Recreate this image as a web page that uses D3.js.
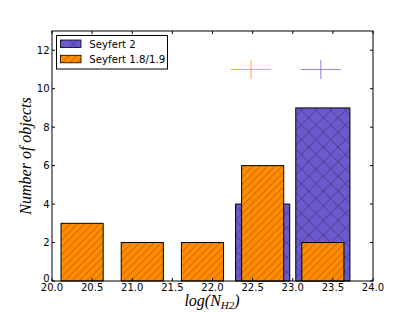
<!DOCTYPE html>
<html><head><meta charset="utf-8">
<script src="https://cdn.jsdelivr.net/npm/d3@7"></script>
<style>body{margin:0;background:#fff}svg{display:block}</style>
</head><body>
<script>
// ---- data ----
const binStarts = [20.0, 20.75, 21.5, 22.25, 23.0];
const binWidth = 0.75;
const sy2Counts = [0, 0, 0, 4, 9];
const sy18Counts = [3, 2, 2, 6, 2];
const seriesNames = ["Seyfert 2", "Seyfert 1.8/1.9"];
const xTicks = [20.0, 20.5, 21.0, 21.5, 22.0, 22.5, 23.0, 23.5, 24.0];
const yTicks = [0, 2, 4, 6, 8, 10, 12];
const crossX = [22.48, 23.35];
const crossY = [11, 11];
const crossXErr = [0.25, 0.25];
const crossYErr = [0.5, 0.5];

const W = 415, H = 312;
const L = 52, R = 373, T = 31, B = 281;
const svg = d3.select("body").append("svg").attr("width", W).attr("height", H);
const x = d3.scaleLinear().domain([20, 24]).range([L, R]);
const y = d3.scaleLinear().domain([0, 13]).range([B, T]);

const defs = svg.append("defs");
// crosshatch 'x'
const p1 = defs.append("pattern").attr("id", "hx").attr("patternUnits", "userSpaceOnUse")
  .attr("width", 14.7).attr("height", 14.7);
p1.append("rect").attr("width", 14.7).attr("height", 14.7).attr("fill", "#6a5acd");
p1.append("path").attr("d", "M0,0L14.7,14.7M0,14.7L14.7,0M-1,1L1,-1M13.7,15.7L15.7,13.7M-1,13.7L1,15.7M13.7,-1L15.7,1")
  .attr("stroke", "#2a2450").attr("stroke-width", 0.6).attr("stroke-opacity", 0.85).attr("fill", "none");
// '//' hatch
const p2 = defs.append("pattern").attr("id", "hs").attr("patternUnits", "userSpaceOnUse")
  .attr("width", 7.35).attr("height", 7.35);
p2.append("rect").attr("width", 7.35).attr("height", 7.35).attr("fill", "#ff8c00");
p2.append("path").attr("d", "M0,7.35L7.35,0M-1,1L1,-1M6.35,8.35L8.35,6.35")
  .attr("stroke", "#5a3000").attr("stroke-width", 0.55).attr("stroke-opacity", 0.8).attr("fill", "none");

const g = svg.append("g");
function bars(counts, frac, fill) {
  const d = binStarts.map((s, i) => ({s, c: counts[i]})).filter(e => e.c > 0);
  g.selectAll(null).data(d).enter().append("rect")
    .attr("x", e => x(e.s + binWidth * (1 - frac) / 2))
    .attr("width", e => x(e.s + binWidth * (1 + frac) / 2) - x(e.s + binWidth * (1 - frac) / 2))
    .attr("y", e => y(e.c)).attr("height", e => y(0) - y(e.c))
    .attr("fill", fill).attr("stroke", "#000").attr("stroke-width", 1);
}
bars(sy2Counts, 0.9, "url(#hx)");
bars(sy18Counts, 0.7, "url(#hs)");

// crosses
const crossColors = ["#ff8c00", "#6a5acd"];
crossX.forEach((cx, i) => {
  const cg = svg.append("g").attr("stroke", crossColors[i]).attr("stroke-opacity", 0.75).attr("stroke-width", 1);
  cg.append("line").attr("x1", x(cx - crossXErr[i])).attr("x2", x(cx + crossXErr[i])).attr("y1", y(crossY[i])).attr("y2", y(crossY[i]));
  cg.append("line").attr("x1", x(cx)).attr("x2", x(cx)).attr("y1", y(crossY[i] - crossYErr[i])).attr("y2", y(crossY[i] + crossYErr[i]));
});

// axes
const font = "DejaVu Sans, sans-serif";
const tl = 3;
const ax = svg.append("g").attr("stroke", "#000").attr("stroke-width", 1);
xTicks.forEach(t => {
  ax.append("line").attr("x1", x(t)).attr("x2", x(t)).attr("y1", B).attr("y2", B - tl);
  ax.append("line").attr("x1", x(t)).attr("x2", x(t)).attr("y1", T).attr("y2", T + tl);
});
yTicks.forEach(t => {
  ax.append("line").attr("x1", L).attr("x2", L + tl).attr("y1", y(t)).attr("y2", y(t));
  ax.append("line").attr("x1", R).attr("x2", R - tl).attr("y1", y(t)).attr("y2", y(t));
});
svg.append("rect").attr("x", L).attr("y", T).attr("width", R - L).attr("height", B - T)
  .attr("fill", "none").attr("stroke", "#000").attr("stroke-width", 1);

svg.append("g").selectAll("text").data(xTicks).enter().append("text")
  .attr("x", d => x(d)).attr("y", 290.5).attr("text-anchor", "middle")
  .attr("font-family", font).attr("font-size", 10).text(d => d.toFixed(1));
svg.append("g").selectAll("text").data(yTicks).enter().append("text")
  .attr("x", 49.5).attr("y", d => y(d) + 3.6 - (d === 0 ? 2.5 : 0)).attr("text-anchor", "end")
  .attr("font-family", font).attr("font-size", 10).text(d => d);

// axis labels
const serif = "Liberation Serif, DejaVu Serif, serif";
svg.append("text").attr("transform", "translate(31,156) rotate(-90)").attr("text-anchor", "middle")
  .attr("font-family", serif).attr("font-style", "italic").attr("font-size", 16).text("Number of objects");
const xl = svg.append("text").attr("x", 212).attr("y", 306).attr("text-anchor", "middle")
  .attr("font-family", serif).attr("font-style", "italic").attr("font-size", 16);
xl.append("tspan").text("log(N");
xl.append("tspan").attr("dy", 3).attr("font-size", 11).text("H2");
xl.append("tspan").attr("dy", -3).text(")");

// legend
const lg = svg.append("g");
lg.append("rect").attr("x", 56.5).attr("y", 35.5).attr("width", 111).attr("height", 33.5)
  .attr("fill", "#fff").attr("stroke", "#000").attr("stroke-width", 1);
const lfills = ["url(#hx)", "url(#hs)"];
seriesNames.forEach((n, i) => {
  lg.append("rect").attr("x", 60.5).attr("y", 40 + i * 15.3).attr("width", 20.5).attr("height", 7.5)
    .attr("fill", lfills[i]).attr("stroke", "#000").attr("stroke-width", 0.8);
  lg.append("text").attr("x", 89.3).attr("y", 47.8 + i * 15.3).attr("font-family", font)
    .attr("font-size", 10.2).text(n);
});
</script>
</body></html>
